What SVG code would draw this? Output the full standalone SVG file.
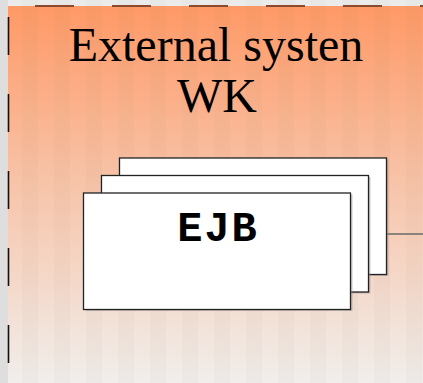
<svg xmlns="http://www.w3.org/2000/svg" width="423" height="383" viewBox="0 0 423 383">
  <defs>
    <linearGradient id="bg" x1="0" y1="6" x2="0" y2="383" gradientUnits="userSpaceOnUse">
      <stop offset="0" stop-color="#ff9966"/>
      <stop offset="0.45" stop-color="#f8c2a6"/>
      <stop offset="1" stop-color="#f1eeec"/>
    </linearGradient>
    <pattern id="stripes" x="22" y="0" width="32" height="383" patternUnits="userSpaceOnUse">
      <rect x="0" y="0" width="16" height="383" fill="#7a6a60" opacity="0.035"/>
    </pattern>
  </defs>
  <style>
    .box { fill: #ffffff; stroke: #222222; stroke-width: 1.3; }
    .shadow { fill: #8c8c8c; opacity: 0.45; }
    .title { font-family: "Liberation Serif", "Times New Roman", serif; font-size: 48px; fill: #000000; text-anchor: middle; }
    .label { font-family: "Liberation Mono", "Courier New", monospace; font-weight: bold; font-size: 42px; letter-spacing: 2px; fill: #000000; text-anchor: middle; }
    .conn { stroke: #6a6a6a; stroke-width: 1.5; fill: none; }
  </style>

  <!-- background -->
  <rect x="0" y="0" width="423" height="383" fill="#ebebeb"/>
  <rect x="0" y="0" width="8" height="383" fill="#dedede"/>
  <rect x="8" y="6" width="415" height="377" fill="url(#bg)"/>
  <rect x="8" y="0" width="415" height="383" fill="url(#stripes)"/>
  <line x1="35" y1="6" x2="423" y2="6" stroke="#8b4a2b" stroke-width="2" stroke-dasharray="39 38"/>
  <line x1="8.5" y1="17" x2="8.5" y2="383" stroke="#111111" stroke-width="1.6" stroke-dasharray="38 39"/>

  <g id="title">
    <text class="title" x="216" y="61">External systen</text>
    <text class="title" x="217" y="112">WK</text>
  </g>

  <g id="connectors">
    <line class="conn" x1="387" y1="234" x2="423" y2="234"/>
  </g>

  <g id="ejb-back">
    <rect class="shadow" x="121.5" y="159.5" width="267" height="116.5"/>
    <rect class="box" x="119.5" y="158" width="267" height="116.5"/>
  </g>
  <g id="ejb-middle">
    <rect class="shadow" x="103.5" y="177" width="267" height="116.5"/>
    <rect class="box" x="101.5" y="175.5" width="267" height="116.5"/>
  </g>
  <g id="ejb-front">
    <rect class="shadow" x="85.5" y="194.5" width="267" height="116.5"/>
    <rect class="box" x="83.5" y="193" width="267" height="116.5"/>
    <text class="label" x="218" y="241">EJB</text>
  </g>
</svg>
